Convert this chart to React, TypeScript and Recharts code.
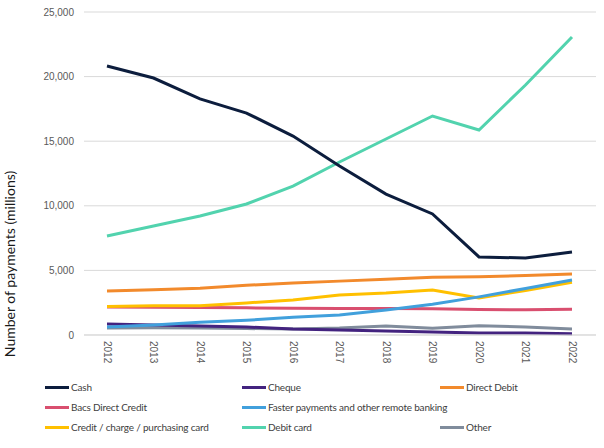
import { LineChart, Line, XAxis, YAxis, CartesianGrid, Legend, Label } from 'recharts'

const years = ['2012', '2013', '2014', '2015', '2016', '2017', '2018', '2019', '2020', '2021', '2022']

const cash = [20820, 19890, 18270, 17180, 15400, 13080, 10910, 9370, 6040, 5960, 6420]
const cheque = [850, 770, 700, 620, 460, 390, 310, 230, 150, 150, 100]
const directDebit = [3400, 3500, 3620, 3850, 4020, 4170, 4320, 4470, 4500, 4600, 4720]
const bacs = [2170, 2150, 2120, 2100, 2080, 2060, 2050, 2040, 1980, 1950, 2000]
const faster = [620, 770, 980, 1140, 1370, 1550, 1930, 2380, 2950, 3600, 4250]
const credit = [2200, 2260, 2260, 2480, 2710, 3100, 3250, 3480, 2860, 3450, 4080]
const debit = [7660, 8440, 9210, 10140, 11530, 13390, 15170, 16950, 15870, 19350, 23070]
const other = [540, 560, 540, 500, 460, 540, 700, 520, 720, 620, 470]

const yTicks = [0, 5000, 10000, 15000, 20000, 25000]

const series = [
  { key: 'Cash', values: cash, color: '#0c1d3d' },
  { key: 'Cheque', values: cheque, color: '#43237f' },
  { key: 'Direct Debit', values: directDebit, color: '#f28a2c' },
  { key: 'Bacs Direct Credit', values: bacs, color: '#d94f6f' },
  { key: 'Faster payments and other remote banking', values: faster, color: '#41a0dc' },
  { key: 'Credit / charge / purchasing card', values: credit, color: '#ffc000' },
  { key: 'Debit card', values: debit, color: '#52d3ae' },
  { key: 'Other', values: other, color: '#808c9c' },
]

// legend grid, row by row (Excel left a gap after the long label)
const legendRows = [
  ['Cash', 'Cheque', 'Direct Debit'],
  ['Bacs Direct Credit', 'Faster payments and other remote banking', ''],
  ['Credit / charge / purchasing card', 'Debit card', 'Other'],
]
const legendCols = [45, 242, 440]

const drawOrder = ['Other', 'Cheque', 'Bacs Direct Credit', 'Direct Debit', 'Credit / charge / purchasing card', 'Faster payments and other remote banking', 'Debit card', 'Cash']

const data = years.map((year, i) => {
  const row: Record<string, string | number> = { year }
  series.forEach((s) => { row[s.key] = s.values[i] })
  return row
})

const colorOf = (name: string) => series.find((s) => s.key === name)?.color ?? '#000'

function YearTick({ x, y, payload }: any) {
  return (
    <text
      x={x}
      y={y}
      transform={`rotate(90 ${x} ${y})`}
      textAnchor="start"
      dominantBaseline="central"
      fontSize={10}
      fontFamily="Arial, 'Liberation Sans', sans-serif"
      fill="#595959"
    >
      {payload.value}
    </text>
  )
}

function PaymentsLegend() {
  return (
    <div style={{ position: 'relative', width: 604, height: 60 }}>
      {legendRows.map((row, r) =>
        row.map((name, c) =>
          name ? (
            <div
              key={name}
              style={{
                position: 'absolute',
                left: legendCols[c],
                top: r * 20,
                height: 20,
                display: 'flex',
                alignItems: 'center',
                whiteSpace: 'nowrap',
                fontFamily: 'Lato, sans-serif',
                fontSize: 10,
                letterSpacing: -0.2,
                color: '#404040',
              }}
            >
              <span style={{ display: 'inline-block', width: 24, height: 3, background: colorOf(name), marginRight: 2 }} />
              {name}
            </div>
          ) : null,
        ),
      )}
    </div>
  )
}

export default function App() {
  return (
    <div style={{ position: 'absolute', left: 0, top: 0, background: '#fff' }}>
      <LineChart width={604} height={448} data={data} margin={{ top: 12, right: 8, left: 0, bottom: 11 }}>
        <CartesianGrid vertical={false} stroke="#d9d9d9" />
        <XAxis
          dataKey="year"
          interval={0}
          padding={{ left: 23, right: 24 }}
          height={42}
          tick={<YearTick />}
          tickLine={false}
          tickSize={0}
          tickMargin={6}
          axisLine={{ stroke: '#d9d9d9' }}
        />
        <YAxis
          width={84}
          domain={[0, 25000]}
          ticks={yTicks}
          tickFormatter={(v: number) => v.toLocaleString('en-US')}
          tick={{ fontSize: 10, fill: '#595959', fontFamily: "Arial, 'Liberation Sans', sans-serif" }}
          axisLine={false}
          tickLine={false}
          tickSize={0}
          tickMargin={10}
        >
          <Label
            content={() => (
              <text
                x={15}
                y={264}
                transform="rotate(-90 15 264)"
                textAnchor="middle"
                fontSize={14}
                fontFamily="Lato, sans-serif"
                fill="#1a1a1a"
              >
                Number of payments (millions)
              </text>
            )}
          />
        </YAxis>
        <Legend verticalAlign="bottom" height={60} content={<PaymentsLegend />} />
        {drawOrder.map((name) => (
          <Line
            key={name}
            type="linear"
            dataKey={name}
            stroke={colorOf(name)}
            strokeWidth={3}
            dot={false}
            activeDot={false}
            isAnimationActive={false}
          />
        ))}
      </LineChart>
    </div>
  )
}
